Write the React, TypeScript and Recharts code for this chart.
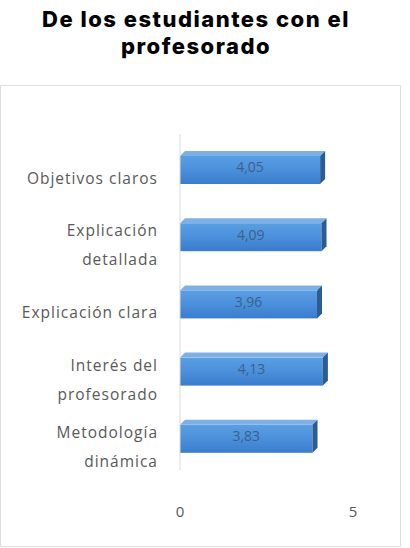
import React from 'react';
import { BarChart, Bar, XAxis, YAxis, LabelList } from 'recharts';

const categories = [
  'Objetivos claros',
  'Explicación detallada',
  'Explicación clara',
  'Interés del profesorado',
  'Metodología dinámica',
];
const scores = [4.05, 4.09, 3.96, 4.13, 3.83];
const xTicks = [0, 5];

// line breaks used in the category axis
const labelLines: Record<string, string[]> = {
  'Objetivos claros': ['Objetivos claros'],
  'Explicación detallada': ['Explicación', 'detallada'],
  'Explicación clara': ['Explicación clara'],
  'Interés del profesorado': ['Interés del', 'profesorado'],
  'Metodología dinámica': ['Metodología', 'dinámica'],
};

const data = categories.map((name, i) => ({ name, value: scores[i] }));

const labelFont = '"Open Sans", sans-serif';

function Bar3D(props: any) {
  const { x, y, width, height } = props;
  if (!width || width <= 0) return null;
  const d = 5;
  return (
    <g>
      <rect x={x} y={y + d} width={width} height={height - d} fill="url(#barFront)" />
      <polygon
        points={`${x},${y + d} ${x + d},${y} ${x + width + d},${y} ${x + width},${y + d}`}
        fill="#7db1e6"
      />
      <polygon
        points={`${x + width},${y + d} ${x + width + d},${y} ${x + width + d},${y + height - d} ${x + width},${y + height}`}
        fill="#2d5c92"
      />
    </g>
  );
}

function CategoryTick(props: any) {
  const { x, y, payload } = props;
  const lines = labelLines[payload.value] || [payload.value];
  const offsets = lines.length === 1 ? [11] : [-4, 25];
  return (
    <g>
      {lines.map((line, i) => (
        <text
          key={i}
          x={x}
          y={y + offsets[i]}
          dy="0.35em"
          textAnchor="end"
          fill="#595959"
          fontSize={15.5}
          fontFamily={labelFont}
          letterSpacing={1}
        >
          {line}
        </text>
      ))}
    </g>
  );
}

function ValueTick(props: any) {
  const { x, y, payload } = props;
  return (
    <text x={x} y={y + 42} dy="0.35em" textAnchor="middle" fill="#595959" fontSize={15} fontFamily={labelFont}>
      {payload.value}
    </text>
  );
}

export default function App() {
  return (
    <div style={{ position: 'absolute', left: 0, top: 0, width: 410, height: 548, background: '#fff' }}>
      <div
        style={{
          position: 'absolute',
          top: 6,
          left: 0,
          width: 392,
          textAlign: 'center',
          fontFamily: 'Inter, sans-serif',
          fontWeight: 800,
          fontSize: 22,
          letterSpacing: 1.5,
          lineHeight: '27px',
          color: '#000',
        }}
      >
        De los estudiantes con el
        <br />
        profesorado
      </div>
      <div
        style={{
          position: 'absolute',
          left: 0,
          top: 85,
          width: 399,
          height: 460,
          border: '1px solid #dedede',
        }}
      >
        <BarChart
          width={399}
          height={460}
          data={data}
          layout="vertical"
          margin={{ top: 48, right: 47, bottom: 0, left: 0 }}
          barSize={33}
        >
          <defs>
            <linearGradient id="barFront" x1="0" y1="0" x2="0" y2="1">
              <stop offset="0%" stopColor="#5a9ee3" />
              <stop offset="50%" stopColor="#4b90db" />
              <stop offset="100%" stopColor="#3a7ccb" />
            </linearGradient>
          </defs>
          <XAxis
            type="number"
            domain={[0, 5]}
            ticks={xTicks}
            axisLine={false}
            tickLine={false}
            tickSize={0}
            tickMargin={0}
            height={76}
            tick={<ValueTick />}
          />
          <YAxis
            type="category"
            dataKey="name"
            width={179}
            axisLine={{ stroke: '#d9d9d9' }}
            tickLine={false}
            tickSize={0}
            tickMargin={22}
            tick={<CategoryTick />}
            interval={0}
          />
          <Bar dataKey="value" shape={<Bar3D />} isAnimationActive={false}>
            <LabelList
              dataKey="value"
              position="center"
              formatter={(v: any) => String(v.toFixed(2)).replace('.', ',')}
              fill="#3d5f8c"
              fontSize={14}
              fontFamily={labelFont}
            />
          </Bar>
        </BarChart>
      </div>
    </div>
  );
}
